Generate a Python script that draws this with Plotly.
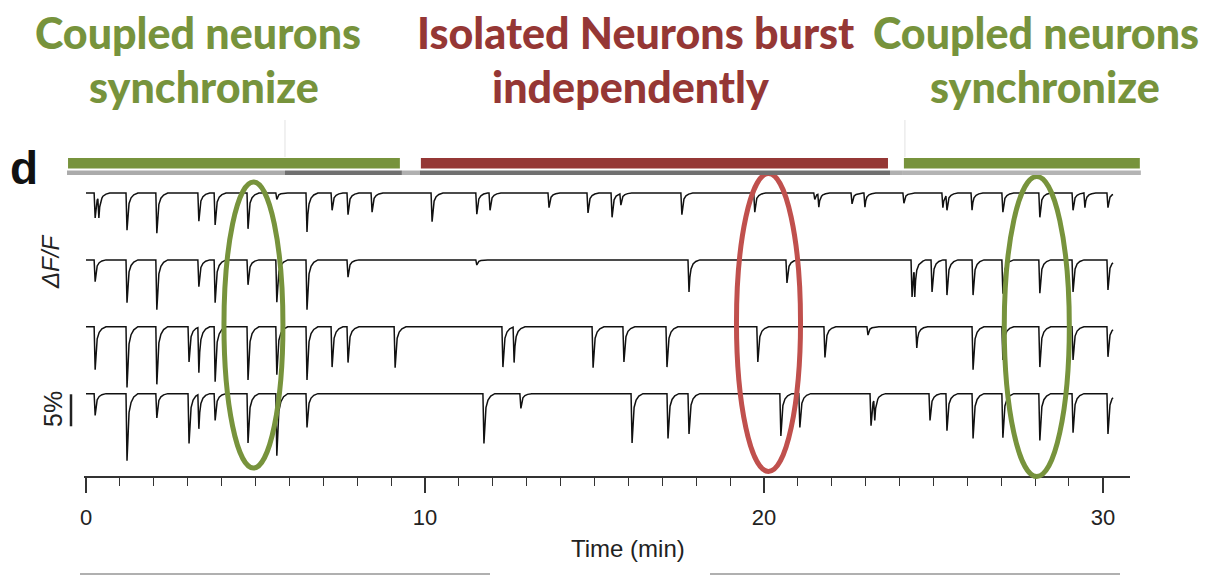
import numpy as np
import plotly.graph_objects as go

# ---------------- data ----------------
# spike times (min) and spike depths (% dF/F) for each neuron
t1 = [0.27, 0.38, 1.21, 2.09, 3.33, 3.81, 4.78, 5.63, 6.52, 7.26, 7.73, 8.44, 10.21, 11.53, 11.92,
      13.66, 14.81, 15.52, 15.78, 17.58, 19.73, 21.50, 21.62, 22.60, 22.98, 24.13, 25.28, 25.40,
      26.14, 27.05, 28.14, 29.12, 29.47, 30.15]
d1 = [3.9, 3.9, 5.8, 6.3, 4.4, 5.0, 5.6, 1.0, 6.1, 2.7, 3.4, 3.0, 4.5, 3.3, 2.7,
      2.3, 3.1, 3.8, 1.9, 3.4, 3.0, 1.0, 2.2, 1.7, 2.2, 1.6, 2.3, 2.7,
      2.7, 3.0, 3.8, 2.7, 2.3, 2.3]
t2 = [0.27, 1.21, 2.09, 3.33, 3.81, 4.78, 5.63, 6.52, 7.73, 11.53, 17.79, 20.68, 24.37, 24.45,
      24.96, 25.40, 26.17, 27.05, 28.14, 29.12, 30.15]
d2 = [3.4, 6.7, 7.8, 4.2, 6.7, 3.9, 6.6, 7.8, 2.7, 0.8, 5.0, 3.6, 5.8, 5.8,
      5.0, 5.5, 5.5, 5.3, 5.2, 5.0, 4.7]
t3 = [0.27, 1.21, 2.09, 3.04, 3.33, 3.81, 4.78, 5.63, 6.52, 7.26, 7.73, 9.12, 12.30, 12.63,
      14.96, 15.87, 17.14, 19.82, 21.80, 23.07, 24.51, 26.17, 27.05, 28.14, 29.12, 30.15]
d3 = [6.7, 9.5, 9.0, 5.5, 7.2, 8.6, 8.3, 7.5, 8.3, 6.3, 5.6, 6.4, 6.3, 5.6,
      6.4, 5.5, 6.3, 5.5, 4.8, 1.3, 3.3, 6.7, 5.2, 6.3, 5.2, 4.7]
t4 = [0.27, 1.21, 2.09, 3.04, 3.33, 3.81, 4.78, 5.63, 6.52, 11.74, 12.83, 16.11, 17.17, 17.79,
      20.50, 21.06, 23.16, 23.27, 24.90, 25.40, 26.17, 27.05, 28.14, 29.12, 30.15]
d4 = [3.4, 10.5, 3.8, 7.8, 5.5, 4.2, 7.7, 9.7, 5.3, 7.8, 2.3, 7.7, 7.0, 6.3,
      6.6, 5.3, 5.0, 4.2, 4.2, 5.8, 7.0, 6.9, 7.3, 6.1, 6.3]
neuron_labels = ["1", "2", "3", "4"]
record_span = [0.0, 30.3]          # min

# epochs (min)
coupled_1 = [-0.53, 9.26]
isolated = [9.88, 23.66]
coupled_2 = [24.13, 31.09]
# highlighted synchronous / independent events (min)
ellipse_green_1 = [4.07, 5.81]
ellipse_red = [19.19, 21.08]
ellipse_green_2 = [27.09, 29.01]

x_ticks = [0, 10, 20, 30]

# ---------------- style / layout constants ----------------
OFF = 8                      # page body margin of the html page
W, H = 1214 - 2 * OFF, 583 - 2 * OFF
PX_L, PX_R, PX_T, PX_B = 84, 1130, 120, 490   # in reference-image pixels
XR = [-0.059, 30.80]
YR = [-46.406, 11.406]
SPACING = 10.45
GREEN = "#77933C"
DRED = "#953735"
RED = "#C0504D"

def px_x(px):
    return (px - PX_L) / (PX_R - PX_L)

def px_y(py):
    return (PX_B - py) / (PX_B - PX_T)

def mx(m):
    return (m - XR[0]) / (XR[1] - XR[0])

def my(v):
    return (v - YR[0]) / (YR[1] - YR[0])

# spike kernel (time offsets, fraction of depth)
K_DT = np.array([-0.03, 0.0, 0.025, 0.06, 0.12, 0.2, 0.32])
K_FR = np.array([0.0, 1.0, 0.55, 0.28, 0.13, 0.05, 0.0])

def build_trace(times, depths):
    grid = [record_span[0], record_span[1]]
    for t in times:
        grid.extend(list(t + K_DT))
    grid = np.array(sorted(set(np.round(grid, 4))))
    grid = grid[(grid >= record_span[0]) & (grid <= record_span[1])]
    y = np.zeros_like(grid)
    for t, d in zip(times, depths):
        y = np.minimum(y, np.interp(grid, t + K_DT, -d * K_FR, left=0, right=0))
    return grid, y

fig = go.Figure()
for i, (tt, dd) in enumerate([(t1, d1), (t2, d2), (t3, d3), (t4, d4)]):
    gx, gy = build_trace(tt, dd)
    fig.add_trace(go.Scatter(x=gx, y=gy - i * SPACING, mode="lines",
                             line=dict(color="#111111", width=1.5),
                             hoverinfo="skip", showlegend=False))

shapes = []
# ellipses
for (a, b), col, (ytop, ybot) in [(ellipse_green_1, GREEN, (1.72, -42.97)),
                                  (ellipse_red, RED, (3.05, -43.5)),
                                  (ellipse_green_2, GREEN, (2.58, -44.3))]:
    shapes.append(dict(type="circle", xref="x", yref="y", x0=a, x1=b, y0=ybot, y1=ytop,
                       line=dict(color=col, width=5)))

# epoch bars
for (a, b), col in [(coupled_1, GREEN), (isolated, DRED), (coupled_2, GREEN)]:
    shapes.append(dict(type="rect", xref="paper", yref="paper", x0=mx(a), x1=mx(b),
                       y0=px_y(168.5), y1=px_y(158), fillcolor=col, line=dict(width=0)))
# gray stimulus bar under the epochs
gray_segments = [([-0.56, 5.87], "#ababab"), ([5.87, 9.32], "#707070"), ([9.32, 9.85], "#b0b0b0"),
                 ([9.85, 23.72], "#707070"), ([23.72, 24.10], "#b0b0b0"), ([24.10, 31.12], "#b4b4b4")]
for (a, b), col in gray_segments:
    shapes.append(dict(type="rect", xref="paper", yref="paper", x0=mx(a), x1=mx(b),
                       y0=px_y(175), y1=px_y(170.5), fillcolor=col, line=dict(width=0)))
for m in [5.87, 24.16]:
    shapes.append(dict(type="line", xref="paper", yref="paper", x0=mx(m), x1=mx(m),
                       y0=px_y(157), y1=px_y(120), line=dict(color="#e2e2e2", width=1)))
# 5% scale bar
shapes.append(dict(type="line", xref="paper", yref="paper", x0=px_x(71), x1=px_x(71),
                   y0=my(-3 * SPACING - 0.1), y1=my(-3 * SPACING - 5.1),
                   line=dict(color="#222222", width=2.5)))
# faint cropped-image edges at the bottom
for a, b in [(80, 490), (710, 1120)]:
    shapes.append(dict(type="line", xref="paper", yref="paper", x0=px_x(a), x1=px_x(b),
                       y0=px_y(574), y1=px_y(574), line=dict(color="#b0b0b0", width=2)))

ann = []
TITLE_FONT = "Lato, 'Open Sans', sans-serif"
def title(text, cx, cy, col):
    ann.append(dict(text=text, x=px_x(cx), y=px_y(cy), xref="paper", yref="paper",
                    showarrow=False, xanchor="center", yanchor="middle",
                    font=dict(family=TITLE_FONT, size=43, color=col, weight=900)))

title("Coupled neurons", 198, 32, GREEN)
title("synchronize", 204, 86, GREEN)
title("Isolated Neurons burst", 636, 32, DRED)
title("independently", 630, 86, DRED)
title("Coupled neurons", 1036, 32, GREEN)
title("synchronize", 1045, 86, GREEN)

SANS = "'Liberation Sans', Arial, Helvetica, sans-serif"
ann.append(dict(text="<b>d</b>", x=px_x(24), y=px_y(168), xref="paper", yref="paper",
                showarrow=False, xanchor="center", yanchor="middle",
                font=dict(family=SANS, size=46, color="#111111")))
ann.append(dict(text="<i>ΔF/F</i>", x=px_x(50), y=px_y(262), xref="paper", yref="paper",
                showarrow=False, textangle=-90, xanchor="center", yanchor="middle",
                font=dict(family=SANS, size=24, color="#222222")))
ann.append(dict(text="5%", x=px_x(53), y=px_y(409), xref="paper", yref="paper",
                showarrow=False, textangle=-90, xanchor="center", yanchor="middle",
                font=dict(family=SANS, size=25, color="#222222")))
for i, lab in enumerate(neuron_labels):
    ann.append(dict(text=lab, x=31.39, y=-i * SPACING - 0.5, xref="x", yref="y",
                    showarrow=False, xanchor="center", yanchor="middle",
                    font=dict(family=SANS, size=24, color="#222222")))
ann.append(dict(text="Time (min)", x=px_x(628), y=px_y(548), xref="paper", yref="paper",
                showarrow=False, xanchor="center", yanchor="middle",
                font=dict(family=SANS, size=24, color="#222222")))

fig.update_layout(
    width=W, height=H,
    margin=dict(l=PX_L - OFF, r=W - (PX_R - OFF), t=PX_T - OFF, b=H - (PX_B - OFF), pad=0),
    paper_bgcolor="white", plot_bgcolor="white",
    shapes=shapes, annotations=ann, showlegend=False,
    xaxis=dict(range=XR, anchor="free", position=px_y(477), showgrid=False, zeroline=False,
               showline=True, linecolor="#333333", linewidth=2,
               tickmode="array", tickvals=x_ticks, ticktext=[str(v) for v in x_ticks],
               ticks="outside", ticklen=15, tickwidth=1.5, tickcolor="#333333",
               ticklabelstandoff=6,
               tickfont=dict(family=SANS, size=22, color="#222222"),
               minor=dict(tickmode="linear", tick0=0, dtick=1, ticks="outside", ticklen=8,
                          tickwidth=1.3, tickcolor="#333333", showgrid=False),
               fixedrange=True),
    yaxis=dict(range=YR, visible=False, showgrid=False, zeroline=False, fixedrange=True),
)

fig.write_html("out.html")
